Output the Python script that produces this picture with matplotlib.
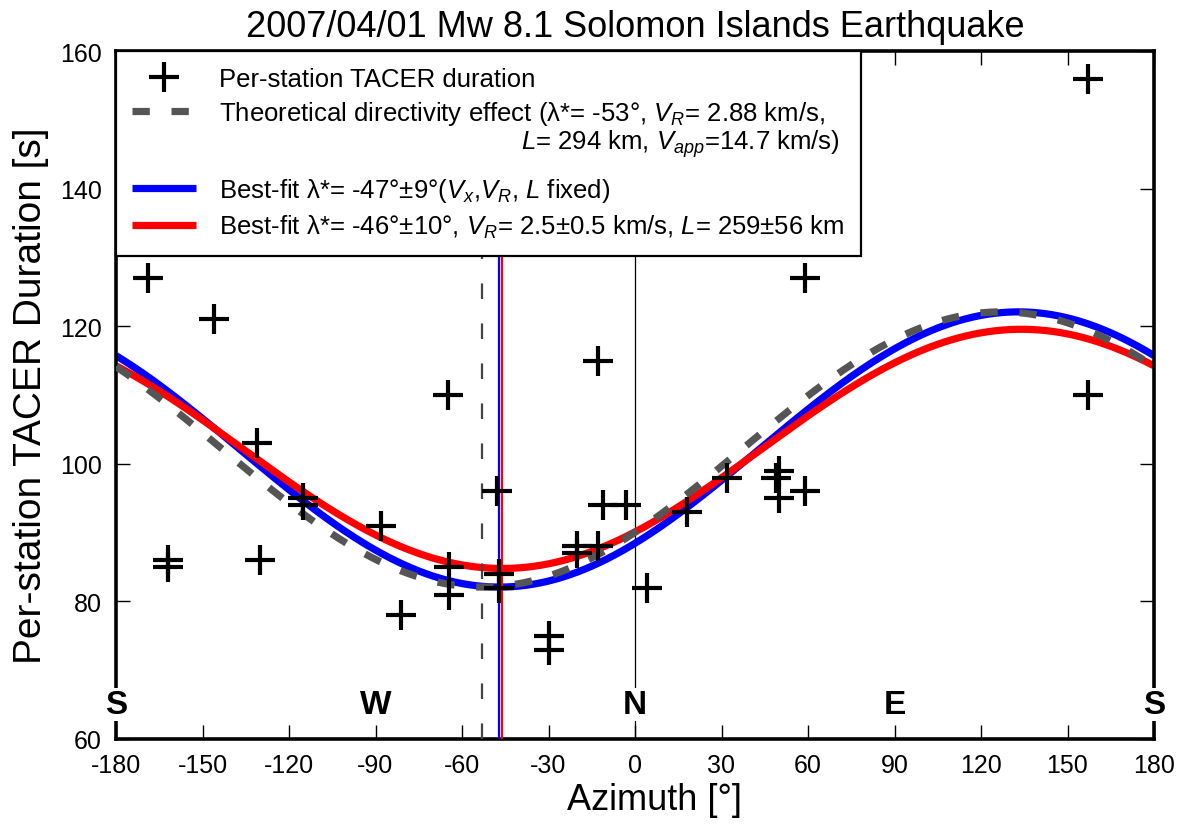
import numpy as np
import matplotlib
matplotlib.use("Agg")
import matplotlib.pyplot as plt
from matplotlib.lines import Line2D

plt.rcParams['font.family'] = ['Liberation Sans', 'DejaVu Sans']
plt.rcParams['mathtext.fontset'] = 'custom'
plt.rcParams['mathtext.rm'] = 'Liberation Sans'
plt.rcParams['mathtext.it'] = 'Liberation Sans:italic'
plt.rcParams['mathtext.bf'] = 'Liberation Sans:bold'
plt.rcParams['axes.unicode_minus'] = False

# ---- data: per-station durations (azimuth deg, duration s) ----
station_azimuth = [-169, -146, -162, -162, -131, -130, -115, -115, -88, -81,
                   -65, -64.5, -64.5, -48, -47, -47, -30, -30, -20, -20,
                   -13, -13, -11, -3, 4, 18, 32, 50, 49, 50, 59, 59, 157, 157]
station_duration = [127, 121, 86, 85, 103, 86, 95, 94, 91, 78,
                    110, 85, 81, 96, 84, 82, 75, 73, 88, 87,
                    88, 115, 94, 94, 82, 93, 98, 99, 98, 95, 96, 127, 110, 156]

# ---- model parameters read from the legend / curves ----
# theoretical, best-fit (lambda only), best-fit (lambda, VR, L)
model_lambda = [-53, -47, -46]      # deg
model_vr = [2.88, 2.88, 2.535]      # km/s
model_length = [294, 294, 259]      # km
model_vapp = [14.7, 14.7, 14.9]     # km/s

x_ticks = [-180, -150, -120, -90, -60, -30, 0, 30, 60, 90, 120, 150, 180]
y_ticks = [60, 80, 100, 120, 140, 160]
compass_az = [-180, -90, 0, 90, 180]
compass_lab = ['S', 'W', 'N', 'E', 'S']

labels = [
    'Per-station TACER duration',
    r'Theoretical directivity effect (λ*= -53°, $V_R$= 2.88 km/s,',
    r'$L$= 294 km, $V_{app}$=14.7 km/s)',
    r'Best-fit λ*= -47°±9°($V_x$,$V_R$, $L$ fixed)',
    r'Best-fit λ*= -46°±10°, $V_R$= 2.5±0.5 km/s, $L$= 259±56 km',
]

fig = plt.figure(figsize=(11.91, 8.29), dpi=100)
ax = fig.add_axes([116/1191, 1-740/829, (1154-116)/1191, (740-52)/829])

az = np.linspace(-180, 180, 721)

def duration(lam, vr, L, vapp):
    return L / vr - (L / vapp) * np.cos(np.radians(az - lam))

colors = ['#555555', '#0000ff', '#ff0000']
curves = []
for i in range(3):
    d = duration(model_lambda[i], model_vr[i], model_length[i], model_vapp[i])
    if i == 0:
        ln, = ax.plot(az, d, color=colors[i], lw=5.2, dashes=(2.4, 3.0), zorder=2.6)
    else:
        ln, = ax.plot(az, d, color=colors[i], lw=5.2, zorder=2.2 if i == 1 else 2.4,
                      solid_capstyle='butt')
    curves.append(ln)

# vertical lines
ax.axvline(0, color='black', lw=0.9, zorder=1.5)
ax.axvline(model_lambda[0], color='#444444', lw=1.6, dashes=(7, 11), zorder=2.7)
ax.axvline(model_lambda[1], color='#0000ff', lw=1.6, zorder=2.7)
ax.axvline(model_lambda[2], color='#ff0000', lw=1.6, zorder=2.7)

pts, = ax.plot(station_azimuth, station_duration, linestyle='none', marker='+',
               markersize=22, markeredgewidth=3, color='black', zorder=4)

for a, lab in zip(compass_az, compass_lab):
    ax.text(a, 65, lab, ha='center', va='center', fontsize=24, fontweight='bold',
            zorder=3.5, clip_on=False,
            bbox=dict(facecolor='white', edgecolor='none', pad=0.5))

ax.set_xlim(-180, 180)
ax.set_ylim(60, 160)
ax.set_xticks(x_ticks)
ax.set_yticks(y_ticks)
ax.tick_params(direction='in', length=10, width=1, top=True, right=True,
               labelsize=18, pad=10)
for s in ax.spines.values():
    s.set_linewidth(2.6)

ax.set_xlabel('Azimuth [°]', fontsize=26)
ax.xaxis.set_label_coords(0.5 + 19/1038, -0.062)
ax.set_ylabel('Per-station TACER Duration [s]', fontsize=28, labelpad=8)
ax.set_title('2007/04/01 Mw 8.1 Solomon Islands Earthquake', fontsize=26, pad=11)

blank = Line2D([], [], linestyle='none')
handles = [pts, curves[0], blank, curves[1], curves[2]]
leg = ax.legend(handles, labels, loc='upper left', bbox_to_anchor=(0, 1),
                borderaxespad=0, fontsize=18.5, fancybox=False, framealpha=1,
                edgecolor='black', handlelength=2.5, handletextpad=0.9,
                labelspacing=0.33, borderpad=0.62)
leg.get_frame().set_linewidth(1.6)
leg.set_zorder(6)

fig.canvas.draw()
r = fig.canvas.get_renderer()
texts = leg.get_texts()
b1 = texts[1].get_window_extent(r)
b2 = texts[2].get_window_extent(r)
c1 = (b1.y0 + b1.y1) / 2
c2 = (b2.y0 + b2.y1) / 2
target_left = 521
dy = (c1 - 30) - c2
dx = target_left - b2.x0
texts[2].set_position((dx, dy))

fig.savefig('out.png', dpi=100)
